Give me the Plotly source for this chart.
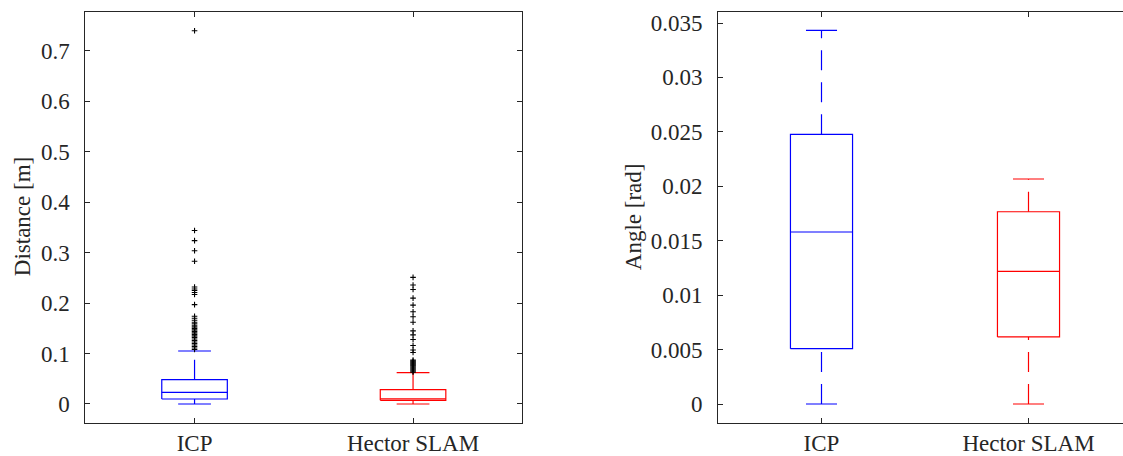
import plotly.graph_objects as go

# Methods compared
groups = ["ICP", "Hector SLAM"]
colors = ["#0000ff", "#ff0000"]

# Position error [m]: box statistics per method
dist_lower = [0.0, 0.0]
dist_q1 = [0.0099, 0.0073]
dist_median = [0.0232, 0.0100]
dist_q3 = [0.0482, 0.0284]
dist_upper = [0.1051, 0.0621]

# Position error outliers [m]
dist_outliers_icp = [0.740, 0.344, 0.324, 0.304, 0.283, 0.232, 0.228, 0.225,
                     0.221, 0.217, 0.197, 0.174, 0.170, 0.166, 0.162, 0.159,
                     0.156, 0.153, 0.150, 0.147, 0.144, 0.141, 0.138, 0.135,
                     0.132, 0.129, 0.126, 0.123, 0.120, 0.117, 0.114, 0.111,
                     0.108]
dist_outliers_hector = [0.251, 0.236, 0.227, 0.210, 0.196, 0.183, 0.173,
                        0.162, 0.145, 0.137, 0.128, 0.116, 0.107, 0.102,
                        0.087, 0.085, 0.083, 0.081, 0.079, 0.077, 0.075,
                        0.073, 0.071, 0.069, 0.067, 0.065, 0.063]

# Heading error [rad]: box statistics per method
angle_lower = [0.0, 0.0]
angle_q1 = [0.00508, 0.00616]
angle_median = [0.0158, 0.01219]
angle_q3 = [0.02477, 0.01766]
angle_upper = [0.03433, 0.02067]

BOX_W = 0.30
CAP_W = BOX_W / 2
LW = 1.2
AXIS_COLOR = "#262626"
FONT = "Liberation Serif, Times New Roman, DejaVu Serif, serif"

fig = go.Figure()


def add_box(pos, lo, q1, med, q3, hi, color, xa, ya):
    common = dict(mode="lines", xaxis=xa, yaxis=ya, showlegend=False,
                  hoverinfo="skip")
    solid = dict(color=color, width=LW)
    dashed = dict(color=color, width=LW, dash="20px,12px")
    h = BOX_W / 2
    c = CAP_W / 2
    # box
    fig.add_trace(go.Scatter(x=[pos - h, pos + h, pos + h, pos - h, pos - h],
                             y=[q1, q1, q3, q3, q1], line=solid, **common))
    # median
    fig.add_trace(go.Scatter(x=[pos - h, pos + h], y=[med, med],
                             line=solid, **common))
    # whiskers
    fig.add_trace(go.Scatter(x=[pos, pos], y=[q3, hi], line=dashed, **common))
    fig.add_trace(go.Scatter(x=[pos, pos], y=[lo, q1], line=dashed, **common))
    # caps
    fig.add_trace(go.Scatter(x=[pos - c, pos + c], y=[hi, hi],
                             line=solid, **common))
    fig.add_trace(go.Scatter(x=[pos - c, pos + c], y=[lo, lo],
                             line=solid, **common))


def add_outliers(pos, values, xa, ya):
    fig.add_trace(go.Scatter(
        x=[pos] * len(values), y=values, mode="markers", xaxis=xa, yaxis=ya,
        showlegend=False, hoverinfo="skip",
        marker=dict(symbol="cross-thin", size=4,
                    line=dict(color="black", width=1.1))))


for i in range(len(groups)):
    add_box(i + 1, dist_lower[i], dist_q1[i], dist_median[i], dist_q3[i],
            dist_upper[i], colors[i], "x", "y")
    add_box(i + 1, angle_lower[i], angle_q1[i], angle_median[i], angle_q3[i],
            angle_upper[i], colors[i], "x2", "y2")

add_outliers(1, dist_outliers_icp, "x", "y")
add_outliers(2, dist_outliers_hector, "x", "y")

tick_font = dict(family=FONT, size=23, color=AXIS_COLOR)
axis_common = dict(showline=True, linecolor=AXIS_COLOR, linewidth=1,
                   ticks="inside", ticklen=5, tickcolor=AXIS_COLOR,
                   tickwidth=1, showgrid=False, zeroline=False,
                   tickfont=tick_font)

y_dom = [1 - 422.7 / 456, 1 - 11.7 / 456]

fig.update_layout(
    width=1123, height=456,
    margin=dict(l=0, r=0, t=0, b=0),
    paper_bgcolor="white", plot_bgcolor="white",
    font=dict(family=FONT, color=AXIS_COLOR),
    xaxis=dict(domain=[85.3 / 1123, 522.3 / 1123], range=[0.5, 2.5],
               tickvals=[1, 2], ticktext=groups, mirror="ticks",
               anchor="y", **axis_common),
    yaxis=dict(domain=y_dom, range=[-0.0371, 0.7779], dtick=0.1, tick0=0,
               mirror="ticks", anchor="x", ticklabelstandoff=10,
               **axis_common),
    xaxis2=dict(domain=[718 / 1123, 1], range=[0.5, 2.4565],
                tickvals=[1, 2], ticktext=groups, mirror="ticks",
                anchor="y2", **axis_common),
    yaxis2=dict(domain=y_dom, range=[-0.001718, 0.036038], dtick=0.005,
                tick0=0, mirror=False, anchor="x2", ticklabelstandoff=10,
                **axis_common),
    annotations=[
        dict(text="Distance [m]", textangle=-90, xref="paper", yref="paper",
             x=22 / 1123, y=(y_dom[0] + y_dom[1]) / 2, xanchor="center",
             yanchor="middle", showarrow=False,
             font=dict(family=FONT, size=23, color=AXIS_COLOR)),
        dict(text="Angle [rad]", textangle=-90, xref="paper", yref="paper",
             x=633 / 1123, y=(y_dom[0] + y_dom[1]) / 2, xanchor="center",
             yanchor="middle", showarrow=False,
             font=dict(family=FONT, size=23, color=AXIS_COLOR)),
    ],
)

fig.write_html("out.html")
